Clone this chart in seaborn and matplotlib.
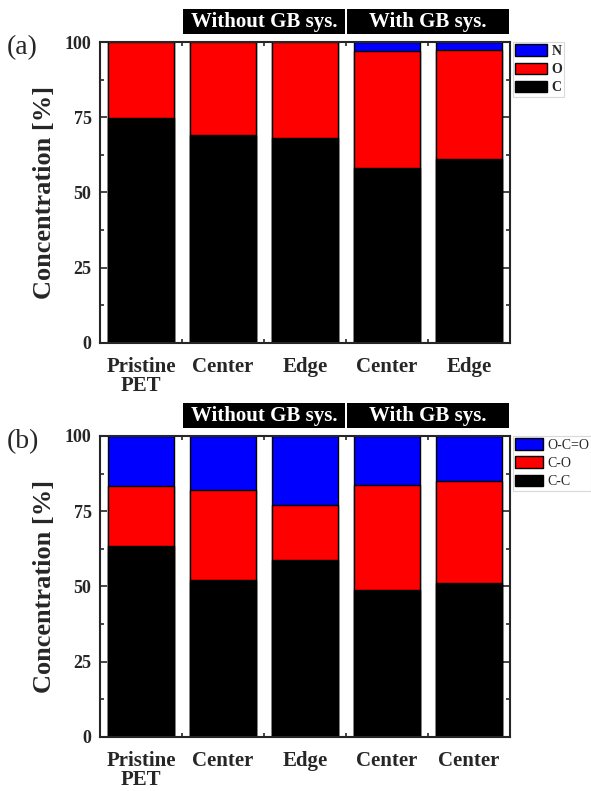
import numpy as np
import pandas as pd
import matplotlib
matplotlib.use('Agg')
import matplotlib.pyplot as plt
from matplotlib.patches import Patch
import seaborn as sb

# data
labels_a = ['Pristine\nPET', 'Center', 'Edge', 'Center', 'Edge']
c_a = [74.7, 69.1, 68.1, 58.1, 61.1]
o_a = [25.3, 30.9, 31.9, 38.9, 36.2]
n_a = [0.0, 0.0, 0.0, 3.0, 2.7]

labels_b = ['Pristine\nPET', 'Center', 'Edge', 'Center', 'Center']
cc_b = [63.5, 52.2, 58.8, 48.8, 51.2]
co_b = [19.9, 29.9, 18.3, 34.9, 33.8]
oco_b = [16.6, 17.9, 22.9, 16.3, 15.0]

groups = ['Without GB sys.', 'With GB sys.']

sb.set_style('ticks')
plt.rcParams['font.family'] = ['Liberation Serif', 'DejaVu Serif']
plt.rcParams['font.weight'] = 'bold'
plt.rcParams['axes.labelweight'] = 'bold'

fig = plt.figure(figsize=(5.91, 7.91), dpi=100)
ax_a = fig.add_axes([0.169, 0.5664, 0.694, 0.3805])
ax_b = fig.add_axes([0.169, 0.0683, 0.694, 0.3805])


def stacked(ax, labels, parts, names, colors, bold_legend, hlen):
    df = pd.DataFrame({'x': range(len(labels))})
    total = np.zeros(len(labels))
    cums = []
    for p in parts:
        total = total + np.array(p)
        cums.append(total.copy())
    # draw tallest first so lower pieces sit on top
    for cum, col in zip(cums[::-1], colors[::-1]):
        df['v'] = cum
        sb.barplot(data=df, x='x', y='v', color=col, width=0.8,
                   edgecolor='black', linewidth=1.0, saturation=1, ax=ax)
    ax.set_xlim(-0.5, len(labels) - 0.5)
    ax.set_ylim(0, 100)
    ax.set_yticks([0, 25, 50, 75, 100])
    ax.set_yticklabels(['0', '25', '50', '75', '100'], fontsize=13, fontweight='bold')
    ax.set_yticks(np.arange(12.5, 100, 25), minor=True)
    ax.set_xticks(range(len(labels)))
    ax.set_xticklabels(labels, fontsize=15, fontweight='bold', linespacing=0.95)
    ax.set_xticks(np.arange(0.5, len(labels) - 0.5, 1), minor=True)
    ax.tick_params(which='both', direction='in', top=True, right=True, width=1.2)
    ax.tick_params(which='major', length=5, pad=6)
    ax.tick_params(which='minor', length=3)
    ax.tick_params(axis='x', which='major', bottom=False, pad=10)
    ax.set_xlabel('')
    ax.set_ylabel('Concentration [%]', fontsize=19, fontweight='bold', labelpad=6)
    for s in ax.spines.values():
        s.set_linewidth(1.5)
        s.set_visible(True)
    handles = [Patch(facecolor=c, edgecolor='black', linewidth=1) for c in colors[::-1]]
    leg = ax.legend(handles, names[::-1], loc='upper left', bbox_to_anchor=(1.008, 1.0),
                    frameon=True, fancybox=False, handlelength=hlen,
                    handleheight=0.9, labelspacing=0.35, borderpad=0.15,
                    handletextpad=0.3, borderaxespad=0.0,
                    prop={'weight': 'bold' if bold_legend else 'normal', 'size': 10})
    leg.get_frame().set_edgecolor('#d0d0d0')
    leg.get_frame().set_linewidth(0.8)
    # group header boxes above the axes
    for g, (x0, x1) in zip(groups, [(0.5, 2.5), (2.5, 4.5)]):
        tr = ax.get_xaxis_transform()
        ax.add_patch(plt.Rectangle((x0 + 0.01, 1.025), x1 - x0 - 0.02, 0.083,
                                   transform=tr, facecolor='black', edgecolor='none',
                                   clip_on=False))
        ax.text((x0 + x1) / 2, 1.066, g, transform=tr, color='white', ha='center',
                va='center', fontsize=15, fontweight='bold')


stacked(ax_a, labels_a, [c_a, o_a, n_a], ['C', 'O', 'N'],
        ['black', '#ff0000', '#0000ff'], True, 2.3)
stacked(ax_b, labels_b, [cc_b, co_b, oco_b], ['C-C', 'C-O', 'O-C=O'],
        ['black', '#ff0000', '#0000ff'], False, 2.0)

fig.text(0.012, 0.932, '(a)', fontsize=20, fontweight='normal')
fig.text(0.012, 0.434, '(b)', fontsize=20, fontweight='normal')

fig.savefig('out.png', dpi=100)
